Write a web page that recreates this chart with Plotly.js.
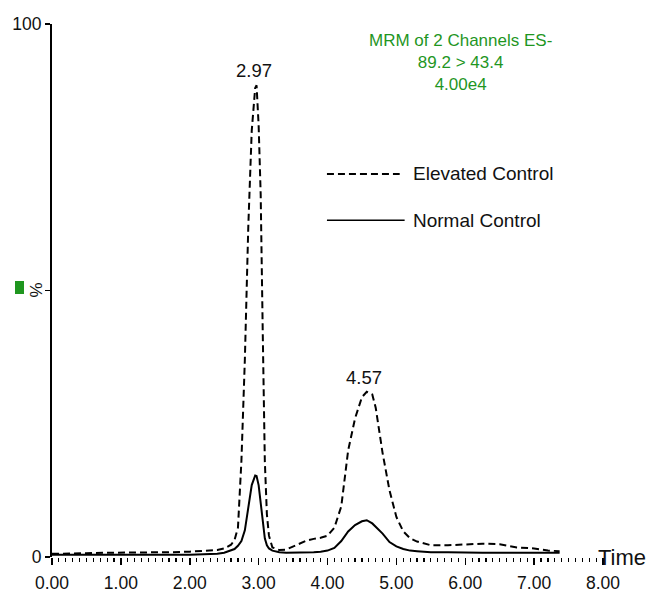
<!DOCTYPE html>
<html>
<head>
<meta charset="utf-8">
<script src="https://cdn.plot.ly/plotly-3.0.1.min.js"></script>
<style>
  html, body { margin: 0; padding: 0; background: #fff; }
  #chart { width: 648px; height: 594px; }
</style>
</head>
<body>
<div id="chart"></div>
<script>
// Retention time (min)
const time = [0, 0.25, 0.5, 0.75, 1.0, 1.25, 1.5, 1.75, 2.0, 2.2,
  2.4, 2.5, 2.6, 2.65, 2.7, 2.75, 2.8, 2.85, 2.9, 2.95,
  2.97, 3.0, 3.03, 3.06, 3.09, 3.12, 3.15, 3.2, 3.3, 3.4,
  3.5, 3.6, 3.7, 3.8, 3.9, 4.0, 4.1, 4.2, 4.3, 4.4,
  4.5, 4.57, 4.65, 4.7, 4.8, 4.9, 5.0, 5.1, 5.2, 5.3,
  5.4, 5.5, 5.75, 6.0, 6.25, 6.5, 6.75, 7.0, 7.2, 7.37];

// Relative intensity (%)
const elevatedControl = [0.6, 0.6, 0.7, 0.8, 0.8, 0.8, 0.9, 0.9, 1.0, 1.1,
  1.3, 1.6, 2.3, 3.2, 5.5, 18, 37, 62, 80, 88,
  88.5, 81, 68, 42, 18, 8, 4, 1.8, 1.3, 1.4,
  2.0, 2.6, 3.1, 3.4, 3.6, 4.0, 5.5, 9.5, 20, 26,
  30, 31, 30.5, 28, 19.5, 12.5, 7.5, 4.8, 3.5, 2.9,
  2.5, 2.2, 2.2, 2.3, 2.5, 2.4, 1.8, 1.6, 1.2, 1.1];

const normalControl = [0.4, 0.4, 0.3, 0.3, 0.3, 0.3, 0.3, 0.4, 0.4, 0.5,
  0.6, 0.8, 1.2, 1.5, 2.1, 3.0, 5.0, 9, 13.5, 15.3,
  15.2, 13.5, 10, 6, 3.5, 2.2, 1.6, 1.2, 0.9, 0.8,
  0.8, 0.8, 0.8, 0.9, 1.0, 1.2, 1.7, 3.0, 4.8, 6.0,
  6.7, 6.9, 6.3, 5.7, 4.4, 2.8, 2.0, 1.5, 1.2, 1.1,
  1.0, 0.9, 0.9, 0.8, 0.8, 0.8, 0.8, 0.8, 0.8, 0.8];

const seriesNames = ["Elevated Control", "Normal Control"];
const peakLabels = [
  {t: 2.97, v: 88.5, text: "2.97"},
  {t: 4.57, v: 31, text: "4.57"}
];
const infoLines = ["MRM of 2 Channels ES-", "89.2 &gt; 43.4", "4.00e4"];
const yTickVals = [0, 50, 100];
const yTickText = ["0", "", "100"];

const FONT = "Liberation Sans, Arial, sans-serif";
const GREEN = "#1f961f";

const traces = [
  {
    x: time, y: elevatedControl, name: seriesNames[0], type: "scatter", mode: "lines",
    line: {color: "#000", width: 2, dash: "7px,4px"}, showlegend: false
  },
  {
    x: time, y: normalControl, name: seriesNames[1], type: "scatter", mode: "lines",
    line: {color: "#000", width: 2}, showlegend: false
  }
];

const annotations = [];
peakLabels.forEach(p => annotations.push({
  x: p.t, y: p.v, xref: "x", yref: "y", text: p.text, showarrow: false,
  yanchor: "bottom", yshift: 2, xshift: -3,
  font: {family: FONT, size: 18.5, color: "#111"}
}));
annotations.push({
  xref: "paper", yref: "paper", x: 0.742, y: 0.927, text: infoLines.join("<br>"),
  showarrow: false, xanchor: "center", yanchor: "middle", align: "center",
  font: {family: FONT, size: 17, color: GREEN}
});
annotations.push({
  xref: "paper", yref: "paper", x: 0.652, y: 0.7186, text: seriesNames[0],
  showarrow: false, xanchor: "left", yanchor: "middle",
  font: {family: FONT, size: 19, color: "#111"}
});
annotations.push({
  xref: "paper", yref: "paper", x: 0.652, y: 0.632, text: seriesNames[1],
  showarrow: false, xanchor: "left", yanchor: "middle",
  font: {family: FONT, size: 19, color: "#111"}
});
annotations.push({
  xref: "paper", yref: "paper", x: 1.0345, y: 0, text: "Time",
  showarrow: false, xanchor: "center", yanchor: "middle",
  font: {family: FONT, size: 22, color: "#111"}
});
annotations.push({
  xref: "paper", yref: "paper", x: -0.029, y: 0.5, text: "%",
  showarrow: false, xanchor: "center", yanchor: "middle", textangle: -90,
  font: {family: FONT, size: 17, color: "#111"}
});

const shapes = [
  {type: "line", xref: "paper", yref: "paper", x0: 0.499, x1: 0.631, y0: 0.7186, y1: 0.7186,
   line: {color: "#000", width: 2, dash: "7px,4px"}},
  {type: "line", xref: "paper", yref: "paper", x0: 0.499, x1: 0.64, y0: 0.632, y1: 0.632,
   line: {color: "#000", width: 1.5}},
  {type: "rect", xref: "paper", yref: "paper", x0: -0.0672, x1: -0.0508, y0: 0.4934, y1: 0.5178,
   fillcolor: GREEN, line: {width: 0}}
];

const layout = {
  width: 648, height: 594,
  margin: {l: 52, r: 45, t: 24, b: 37},
  paper_bgcolor: "#fff", plot_bgcolor: "#fff",
  font: {family: FONT, size: 17, color: "#111"},
  xaxis: {
    range: [0, 8], dtick: 1, tick0: 0, tickformat: ".2f",
    showgrid: false, zeroline: false, showline: false,
    ticks: "outside", ticklen: 7, tickwidth: 1.5, tickcolor: "#000",
    ticklabelstandoff: 3,
    minor: {dtick: 0.1, ticks: "outside", ticklen: 4, tickwidth: 1.2, tickcolor: "#000", showgrid: false},
    tickfont: {family: FONT, size: 17.5, color: "#111"}
  },
  yaxis: {
    range: [0, 100], tickmode: "array", tickvals: yTickVals, ticktext: yTickText,
    showgrid: false, zeroline: false, showline: true, linecolor: "#000", linewidth: 2,
    ticks: "outside", ticklen: 5, tickwidth: 1.5, tickcolor: "#000",
    tickfont: {family: FONT, size: 17.5, color: "#111"}
  },
  annotations: annotations,
  shapes: shapes,
  showlegend: false
};

Plotly.newPlot("chart", traces, layout, {staticPlot: true, displayModeBar: false});
</script>
</body>
</html>
